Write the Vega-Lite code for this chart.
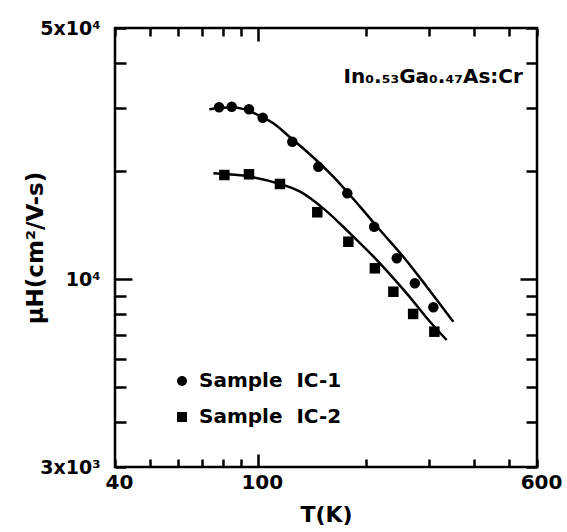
{
  "$schema": "https://vega.github.io/schema/vega-lite/v6.json",
  "width": 422,
  "height": 439,
  "autosize": {"type": "none"},
  "padding": {"left": 115, "top": 28, "right": 30, "bottom": 65},
  "background": "white",
  "config": {
    "font": "DejaVu Sans",
    "view": {"stroke": "black", "strokeWidth": 2.5},
    "axis": {
      "grid": false,
      "domain": false,
      "labelFont": "DejaVu Sans",
      "labelFontSize": 20,
      "labelFontWeight": "bold",
      "labelColor": "black",
      "tickColor": "black",
      "tickWidth": 2.5,
      "titleFont": "DejaVu Sans",
      "titleFontSize": 22,
      "titleFontWeight": "bold",
      "titleColor": "black",
      "labelFlush": false,
      "labelOverlap": false
    }
  },
  "datasets": {
    "points": [
      {"sample": "Sample\u00a0\u00a0IC-1", "T": 78.0, "mu": 30080},
      {"sample": "Sample\u00a0\u00a0IC-1", "T": 84.6, "mu": 30200},
      {"sample": "Sample\u00a0\u00a0IC-1", "T": 94.5, "mu": 29700},
      {"sample": "Sample\u00a0\u00a0IC-1", "T": 103.2, "mu": 28140},
      {"sample": "Sample\u00a0\u00a0IC-1", "T": 124.8, "mu": 24130},
      {"sample": "Sample\u00a0\u00a0IC-1", "T": 147.5, "mu": 20560},
      {"sample": "Sample\u00a0\u00a0IC-1", "T": 177.6, "mu": 17330},
      {"sample": "Sample\u00a0\u00a0IC-1", "T": 211, "mu": 13990},
      {"sample": "Sample\u00a0\u00a0IC-1", "T": 244, "mu": 11430},
      {"sample": "Sample\u00a0\u00a0IC-1", "T": 274, "mu": 9735},
      {"sample": "Sample\u00a0\u00a0IC-1", "T": 308.5, "mu": 8350},
      {"sample": "Sample\u00a0\u00a0IC-2", "T": 80.7, "mu": 19490},
      {"sample": "Sample\u00a0\u00a0IC-2", "T": 94.5, "mu": 19580},
      {"sample": "Sample\u00a0\u00a0IC-2", "T": 115.3, "mu": 18400},
      {"sample": "Sample\u00a0\u00a0IC-2", "T": 146.5, "mu": 15350},
      {"sample": "Sample\u00a0\u00a0IC-2", "T": 178.8, "mu": 12710},
      {"sample": "Sample\u00a0\u00a0IC-2", "T": 212, "mu": 10720},
      {"sample": "Sample\u00a0\u00a0IC-2", "T": 238.7, "mu": 9225},
      {"sample": "Sample\u00a0\u00a0IC-2", "T": 271, "mu": 8000},
      {"sample": "Sample\u00a0\u00a0IC-2", "T": 310.5, "mu": 7140}
    ],
    "curves": [
      {"curve": "IC-1 fit", "T": 73.3, "mu": 29700},
      {"curve": "IC-1 fit", "T": 85.5, "mu": 30080},
      {"curve": "IC-1 fit", "T": 99.3, "mu": 28760},
      {"curve": "IC-1 fit", "T": 110.5, "mu": 27150},
      {"curve": "IC-1 fit", "T": 124.8, "mu": 24500},
      {"curve": "IC-1 fit", "T": 135.4, "mu": 22870},
      {"curve": "IC-1 fit", "T": 162.3, "mu": 19280},
      {"curve": "IC-1 fit", "T": 192.7, "mu": 15910},
      {"curve": "IC-1 fit", "T": 219, "mu": 13700},
      {"curve": "IC-1 fit", "T": 254.4, "mu": 11540},
      {"curve": "IC-1 fit", "T": 295.7, "mu": 9530},
      {"curve": "IC-1 fit", "T": 350.7, "mu": 7610},
      {"curve": "IC-2 fit", "T": 75.2, "mu": 19700},
      {"curve": "IC-2 fit", "T": 95.1, "mu": 19280},
      {"curve": "IC-2 fit", "T": 115.3, "mu": 18400},
      {"curve": "IC-2 fit", "T": 131.2, "mu": 17510},
      {"curve": "IC-2 fit", "T": 152.2, "mu": 15740},
      {"curve": "IC-2 fit", "T": 180.7, "mu": 13410},
      {"curve": "IC-2 fit", "T": 219, "mu": 11070},
      {"curve": "IC-2 fit", "T": 260, "mu": 9130},
      {"curve": "IC-2 fit", "T": 302, "mu": 7610},
      {"curve": "IC-2 fit", "T": 336, "mu": 6770}
    ],
    "note": [
      {"label": "In\u2080.\u2085\u2083Ga\u2080.\u2084\u2087As:Cr", "T": 548, "mu": 35140}
    ]
  },
  "layer": [
    {
      "data": {"name": "curves"},
      "mark": {"type": "line", "color": "black", "strokeWidth": 2.5, "interpolate": "monotone"},
      "encoding": {
        "x": {
          "field": "T", "type": "quantitative",
          "scale": {"type": "log", "domain": [40, 600], "nice": false},
          "axis": {
            "orient": "bottom",
            "title": "T(K)",
            "titlePadding": 12,
            "values": [40, 50, 60, 70, 80, 90, 100, 200, 300, 400, 500, 600],
            "labelExpr": "datum.value == 40 ? '40' : datum.value == 100 ? '100' : datum.value == 600 ? '600' : ''",
            "tickSize": {"condition": {"test": "datum.value == 100", "value": -13}, "value": -8},
            "labelPadding": {"condition": {"test": "datum.value == 100", "value": 18}, "value": 13},
            "labelOffset": 4
          }
        },
        "y": {
          "field": "mu", "type": "quantitative",
          "scale": {"type": "log", "domain": [3000, 50000], "nice": false},
          "axis": {
            "orient": "left",
            "title": "μH(cm²/V-s)",
            "titleFontSize": 23,
            "titlePadding": -8,
            "values": [3000, 4000, 5000, 6000, 7000, 8000, 9000, 10000, 20000, 30000, 40000, 50000],
            "labelExpr": "datum.value == 50000 ? '5x10⁴' : datum.value == 10000 ? '10⁴' : datum.value == 3000 ? '3x10³' : ''",
            "labelFontSize": 19,
            "tickSize": {"condition": {"test": "datum.value == 10000", "value": -17}, "value": -11},
            "labelPadding": {"condition": {"test": "datum.value == 10000", "value": 32}, "value": 26}
          }
        },
        "detail": {"field": "curve", "type": "nominal"}
      }
    },
    {
      "data": {"name": "points"},
      "mark": {"type": "point", "filled": true, "color": "black", "opacity": 1, "size": 110},
      "encoding": {
        "x": {
          "field": "T", "type": "quantitative",
          "axis": {
            "orient": "top",
            "title": null,
            "values": [40, 50, 60, 70, 80, 90, 100, 200, 300, 400, 500, 600],
            "labels": false,
            "tickSize": {"condition": {"test": "datum.value == 100", "value": -13}, "value": -8}
          }
        },
        "y": {
          "field": "mu", "type": "quantitative",
          "axis": {
            "orient": "right",
            "title": null,
            "values": [3000, 4000, 5000, 6000, 7000, 8000, 9000, 10000, 20000, 30000, 40000, 50000],
            "labels": false,
            "tickSize": {"condition": {"test": "datum.value == 10000", "value": -17}, "value": -11}
          }
        },
        "shape": {
          "field": "sample", "type": "nominal",
          "scale": {"domain": ["Sample\u00a0\u00a0IC-1", "Sample\u00a0\u00a0IC-2"], "range": ["circle", "square"]},
          "legend": {
            "title": null,
            "orient": "none",
            "legendX": 57,
            "legendY": 343,
            "padding": 0,
            "labelFont": "DejaVu Sans",
            "labelFontSize": 20,
            "labelFontWeight": "bold",
            "labelColor": "black",
            "symbolSize": 100,
            "symbolFillColor": "black",
            "symbolStrokeColor": "black",
            "symbolStrokeWidth": 0,
            "rowPadding": 16,
            "labelOffset": 7
          }
        }
      }
    },
    {
      "data": {"name": "note"},
      "mark": {"type": "text", "align": "right", "baseline": "alphabetic", "fontSize": 20, "fontWeight": "bold", "font": "DejaVu Sans", "color": "black"},
      "encoding": {
        "x": {"field": "T", "type": "quantitative", "axis": null},
        "y": {"field": "mu", "type": "quantitative", "axis": null},
        "text": {"field": "label"}
      }
    }
  ]
}
